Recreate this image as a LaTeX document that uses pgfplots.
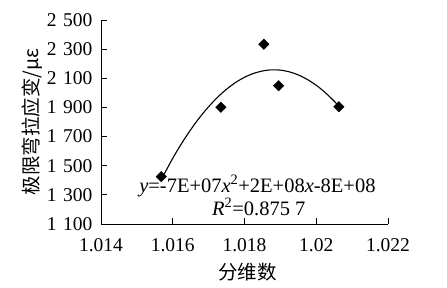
\documentclass[border=0pt]{standalone}
\usepackage{pgfplots}
\pgfplotsset{compat=1.18}
\usepackage{fontspec}
\setmainfont{Liberation Serif}
\newfontfamily\cjk{Noto Sans CJK SC}
\begin{document}
\fontsize{19bp}{22bp}\selectfont
\begin{tikzpicture}
\begin{axis}[
  scale only axis, width=287bp, height=204bp,
  xmin=1.014, xmax=1.022, ymin=1100, ymax=2500,
  axis lines*=left,
  axis line style={black, line width=0.9bp},
  xtick={1.014,1.016,1.018,1.02,1.022},
  xticklabels={1.014,1.016,1.018,1.02,1.022},
  ytick={1100,1300,1500,1700,1900,2100,2300,2500},
  yticklabels={1\,\,100,1\,\,300,1\,\,500,1\,\,700,1\,\,900,2\,\,100,2\,\,300,2\,\,500},
  tick align=inside, major tick length=6bp,
  tick style={black, line width=0.9bp},
  /pgf/number format/assume math mode=true,
  every tick label/.append style={font=\fontsize{19.5bp}{22bp}\selectfont},
  xticklabel style={yshift=-8bp},
  yticklabel style={xshift=-2bp},
  every axis y label/.style={at={(axis description cs:-0.24,0.5)}, rotate=90, anchor=center},
  every axis x label/.style={at={(axis description cs:0.51,-0.235)}, anchor=center},
  xlabel={\cjk 分维数},
  ylabel={\cjk 极限弯拉应变/με},
  label style={font=\fontsize{19.5bp}{22bp}\selectfont},
  clip=false,
]
\addplot[black, line width=1.1bp, smooth] coordinates {
(1.01568,1405) (1.0160,1551) (1.01625,1654) (1.0165,1747) (1.01675,1831)
(1.0170,1905) (1.01725,1970) (1.0175,2025) (1.01775,2071) (1.0180,2107)
(1.01825,2133) (1.0185,2150) (1.01875,2158) (1.0190,2156) (1.01925,2144)
(1.0195,2123) (1.01975,2092) (1.0200,2052) (1.02025,2002) (1.0205,1943)
(1.02063,1908)
};
\addplot[only marks, mark=square*, mark size=3.7bp, mark options={rotate=45, fill=black, draw=black}] coordinates {
(1.01568,1425) (1.01734,1901) (1.01854,2333) (1.01895,2049) (1.02063,1905)
};
\node[font=\fontsize{20.5bp}{23bp}\selectfont] at (axis cs:1.01836,1361) {\textit{y}=-7E+07\textit{x}\textsuperscript{2}+2E+08\textit{x}-8E+08};
\node[font=\fontsize{20.5bp}{23bp}\selectfont] at (axis cs:1.0184,1217) {\textit{R}\textsuperscript{2}=0.875 7};
\end{axis}
\path ([xshift=-101bp,yshift=-63bp]current axis.south west) rectangle ([xshift=59bp,yshift=20bp]current axis.north east);
\end{tikzpicture}
\end{document}
